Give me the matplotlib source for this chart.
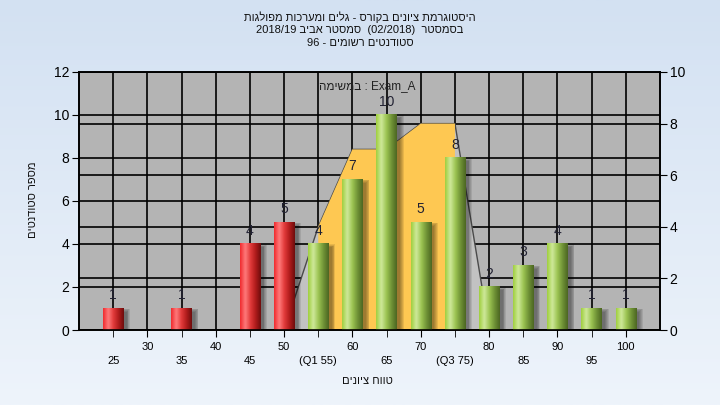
import re
import numpy as np
import matplotlib
matplotlib.use("Agg")
import matplotlib.pyplot as plt
from matplotlib.colors import LinearSegmentedColormap
from matplotlib.patches import Polygon, Rectangle
from matplotlib.transforms import blended_transform_factory

plt.rcParams['font.family'] = ['Liberation Sans', 'DejaVu Sans']

# --- data ---
scores = [25, 30, 35, 40, 45, 50, 55, 60, 65, 70, 75, 80, 85, 90, 95, 100]
counts = [1, 0, 1, 0, 4, 5, 4, 7, 10, 5, 8, 2, 3, 4, 1, 1]
pass_grade = 55
q1, q3 = 55, 75

# frequency polygon (right axis)
poly_x = [50, 55, 60, 65, 70, 75, 80]
poly_y = [0, 4, 7, 7, 8, 8, 0]

top_row = [30, 40, 50, 60, 70, 80, 90, 100]
bottom_row = [25, 35, 45, 55, 65, 75, 85, 95]
bottom_labels = ["25", "35", "45", "(Q1 55)", "65", "(Q3 75)", "85", "95"]

title_lines = ["היסטוגרמת ציונים בקורס - גלים ומערכות מפולגות",
               "בסמסטר  (02/2018)  סמסטר אביב 2018/19",
               "סטודנטים רשומים - 96"]
task_word = "במשימה"
task_name = "Exam_A"
xlabel = "טווח ציונים"
ylabel = "מספר סטודנטים"


def rtl(s):
    # matplotlib has no bidi support: build the right-to-left visual order by hand
    out = s[::-1]
    out = re.sub(r'[0-9/.]+', lambda m: m.group(0)[::-1], out)
    return out.translate(str.maketrans('()', ')('))


# --- figure ---
fig = plt.figure(figsize=(7.2, 4.05), dpi=100)

# background gradient
bg = fig.add_axes([0, 0, 1, 1], zorder=-10)
bg_cmap = LinearSegmentedColormap.from_list("bg", ["#eef4fb", "#d3e1f2"])
bg.imshow(np.linspace(0, 1, 256).reshape(-1, 1)[::-1], aspect='auto', cmap=bg_cmap,
          extent=(0, 1, 0, 1))
bg.axis('off')

ax = fig.add_axes([79 / 720, 1 - 330 / 405, 581 / 720, 258 / 405])
ax.set_facecolor('#b4b4b4')
ax2 = ax.twinx()

ax.set_xlim(20, 105)
ax.set_ylim(0, 12)
ax2.set_ylim(0, 10)

# gridlines
ax.set_yticks(range(0, 13, 2))
ax2.set_yticks(range(0, 11, 2))
ax.set_xticks(top_row)
ax.set_xticks(bottom_row, minor=True)
ax.set_xticklabels([str(v) for v in top_row])
ax.set_xticklabels(bottom_labels, minor=True)
ax.grid(True, which='both', axis='x', color='black', lw=1.2, zorder=1)
ax.grid(True, which='major', axis='y', color='black', lw=1.2, zorder=1)
ax.set_axisbelow(True)
trans_r = blended_transform_factory(ax.transAxes, ax2.transData)
for v in ax2.get_yticks():
    ax.plot([0, 1], [v, v], transform=trans_r, color='black', lw=1.2, zorder=1)

# frequency polygon: grey outside the quartiles, yellow inside
px = np.array(poly_x)
py = np.array(poly_y)
ax.add_patch(Polygon(np.column_stack([px, py]), closed=True, facecolor='#c2c2c2',
                     edgecolor='none', transform=ax2.transData, zorder=2))
ax.plot(px, py, color='#4a4a4a', lw=1, transform=ax2.transData, zorder=2.2)
m = (px >= q1) & (px <= q3)
yx = np.concatenate([[q1], px[m], [q3]])
yy = np.concatenate([[0], py[m], [0]])
ax.add_patch(Polygon(np.column_stack([yx, yy]), closed=True, facecolor='#fec852',
                     edgecolor='none', transform=ax2.transData, zorder=2.5))

# cylinder bars
red = LinearSegmentedColormap.from_list("red", ["#f02a2e", "#ff7b7b", "#e23a3a", "#b01c1c", "#6e0d0d"])
green = LinearSegmentedColormap.from_list("green", ["#9fcf3e", "#cfe99b", "#9cc452", "#6f9236", "#4c6622"])
grad = np.linspace(0, 1, 64).reshape(1, -1)
w = 3.0
for s, c in zip(scores, counts):
    if c == 0:
        continue
    cm = red if s < pass_grade else green
    # soft drop shadow
    for k in range(5):
        e = 0.12 * k
        ax.add_patch(Rectangle((s - w / 2 + 0.5 - e, 0), w + 2 * e, c - 0.15 + e * 0.3,
                               facecolor='black', edgecolor='none', alpha=0.09, zorder=3))
    ax.imshow(grad, extent=(s - w / 2, s + w / 2, 0, c), aspect='auto', cmap=cm,
              interpolation='bicubic', zorder=4)
    ax.text(s, c + 0.62, str(c), ha='center', va='center', fontsize=10,
            color='#222233', zorder=5)

ax.set_xlim(20, 105)
ax.set_ylim(0, 12)

ax.text(0.496, 0.946, rtl(task_word) + " : " + task_name, transform=ax.transAxes,
        ha='center', va='center', fontsize=8.5, color='#222222', zorder=6)

# ticks
ax.tick_params(axis='y', direction='out', length=5, color='black', labelsize=10, pad=2)
ax2.tick_params(axis='y', direction='out', length=5, color='black', labelsize=10, pad=2)
ax.tick_params(axis='x', which='both', direction='out', length=5, color='black',
               labelsize=8)
ax.tick_params(axis='x', which='major', pad=4)
ax.tick_params(axis='x', which='minor', pad=14)
for sp in list(ax.spines.values()) + list(ax2.spines.values()):
    sp.set_color('black')
    sp.set_linewidth(1.2)

# titles and axis labels
for i, line in enumerate(title_lines):
    fig.text(0.5, 1 - (17 + 13 * i) / 405, rtl(line), ha='center', va='center',
             fontsize=8, color='#111111')
fig.text(367 / 720, 1 - 381 / 405, rtl(xlabel), ha='center', va='center', fontsize=8,
         color='#111111')
fig.text(33 / 720, 1 - 200 / 405, rtl(ylabel), ha='center', va='center', rotation=90,
         fontsize=8, color='#111111')

fig.savefig("out.png", dpi=100)
